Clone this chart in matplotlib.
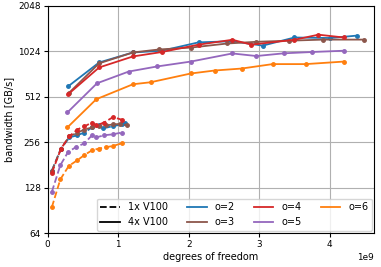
import matplotlib
matplotlib.use('Agg')
import matplotlib.pyplot as plt
from matplotlib.lines import Line2D
from matplotlib.ticker import FixedLocator, FixedFormatter

orders = [2, 3, 4, 5, 6]
colors = {2: 'tab:blue', 3: 'tab:brown', 4: 'tab:red', 5: 'tab:purple', 6: 'tab:orange'}

# 1x V100 (dashed), dofs in units of 1e9
dof_1x = {
    2: [0.06, 0.19, 0.31, 0.42, 0.52, 0.63, 0.73, 0.78, 0.92, 1.05, 1.1],
    3: [0.06, 0.19, 0.31, 0.42, 0.52, 0.63, 0.73, 0.83, 0.93, 1.03, 1.13],
    4: [0.06, 0.19, 0.31, 0.42, 0.52, 0.63, 0.69, 0.8, 0.93, 1.05],
    5: [0.06, 0.18, 0.29, 0.4, 0.52, 0.63, 0.69, 0.8, 0.92, 1.05],
    6: [0.06, 0.18, 0.3, 0.42, 0.52, 0.63, 0.73, 0.83, 0.92, 1.05],
}
bw_1x = {
    2: [166, 232, 275, 284, 296, 320, 331, 315, 326, 335, 340],
    3: [165, 232, 280, 295, 310, 320, 325, 330, 335, 338, 330],
    4: [160, 232, 280, 310, 325, 345, 330, 345, 375, 360],
    5: [120, 180, 220, 237, 251, 284, 275, 284, 288, 296],
    6: [95, 145, 178, 194, 210, 226, 232, 237, 241, 251],
}

# 4x V100 (solid)
dof_4x = {
    2: [0.29, 0.73, 1.21, 1.62, 2.14, 2.62, 3.05, 3.5, 4.01, 4.38],
    3: [0.30, 0.73, 1.21, 1.58, 2.03, 2.55, 2.96, 3.42, 3.91, 4.48],
    4: [0.29, 0.73, 1.21, 1.62, 2.14, 2.62, 2.89, 3.5, 3.84, 4.2],
    5: [0.28, 0.70, 1.15, 1.55, 2.03, 2.62, 2.96, 3.35, 3.75, 4.2],
    6: [0.28, 0.69, 1.21, 1.46, 2.03, 2.37, 2.75, 3.19, 3.66, 4.2],
}
bw_4x = {
    2: [598, 861, 1003, 1030, 1170, 1190, 1113, 1260, 1250, 1296],
    3: [540, 850, 1003, 1050, 1080, 1150, 1180, 1200, 1220, 1220],
    4: [530, 798, 944, 1010, 1130, 1217, 1130, 1217, 1315, 1260],
    5: [402, 627, 750, 810, 873, 988, 950, 990, 1010, 1030],
    6: [320, 492, 618, 637, 728, 762, 785, 840, 840, 873],
}

yticks = [64, 128, 256, 512, 1024, 2048]

plt.rcParams['font.size'] = 7
fig = plt.figure(figsize=(3.81, 2.67), dpi=100)
ax = fig.add_axes([0.125, 0.127, 0.857, 0.852])

for o in orders:
    ax.plot([d * 1e9 for d in dof_1x[o]], bw_1x[o], '--o', color=colors[o], lw=1.3, ms=2.5)
    ax.plot([d * 1e9 for d in dof_4x[o]], bw_4x[o], '-o', color=colors[o], lw=1.3, ms=2.5)

ax.set_yscale('log', base=2)
ax.yaxis.set_major_locator(FixedLocator(yticks))
ax.yaxis.set_major_formatter(FixedFormatter([str(t) for t in yticks]))
ax.yaxis.set_minor_locator(FixedLocator([]))
ax.set_ylim(64, 2048)
ax.set_xlim(0, 4.63e9)
ax.tick_params(labelsize=6.4, length=3, pad=2)
ax.xaxis.get_offset_text().set_fontsize(6.4)
ax.grid(True, color='#b0b0b0', lw=0.8)
ax.set_xlabel('degrees of freedom', labelpad=2)
ax.set_ylabel('bandwidth [GB/s]', labelpad=3)

handles = [
    Line2D([], [], color='k', ls='--', lw=1.3),
    Line2D([], [], color='k', ls='-', lw=1.3),
    Line2D([], [], color=colors[2], lw=1.3),
    Line2D([], [], color=colors[3], lw=1.3),
    Line2D([], [], color=colors[4], lw=1.3),
    Line2D([], [], color=colors[5], lw=1.3),
    Line2D([], [], color=colors[6], lw=1.3),
]
labels = ['1x V100', '4x V100', 'o=2', 'o=3', 'o=4', 'o=5', 'o=6']
ax.legend(handles, labels, loc='lower right', ncol=4, fontsize=7,
          borderaxespad=0.2)

fig.savefig('out.png', dpi=100)
